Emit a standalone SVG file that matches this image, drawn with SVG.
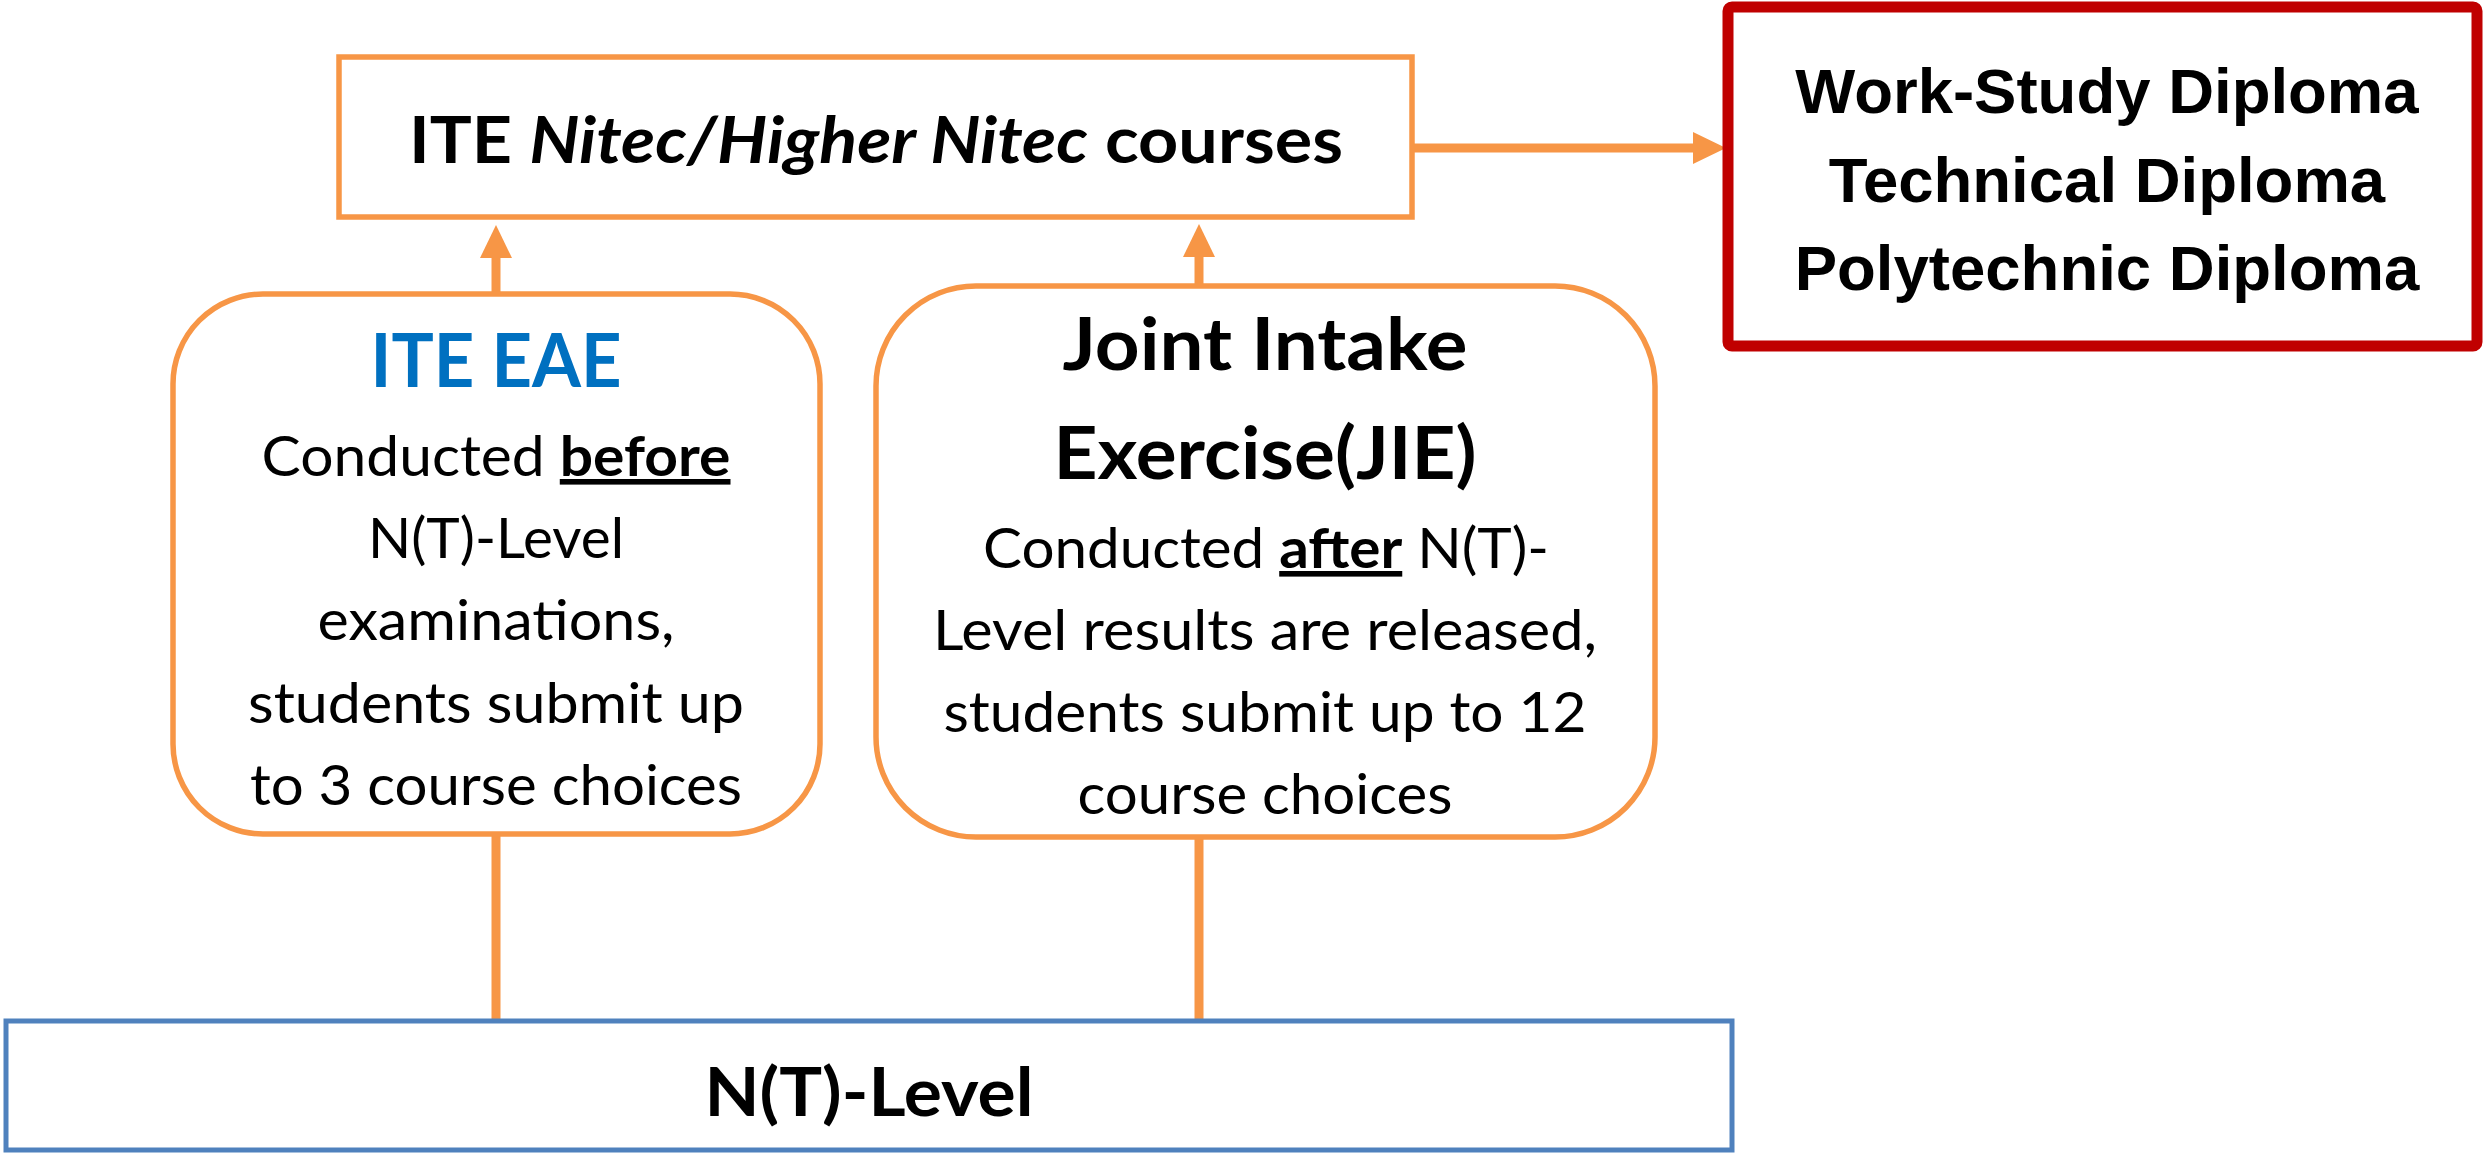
<svg xmlns="http://www.w3.org/2000/svg" width="2484" height="1153" viewBox="0 0 2484 1153">
<defs>
<style>
.ob{fill:#fff;stroke:#F79646;stroke-width:5.5}
.t{font-family:Lato,'Open Sans','DejaVu Sans',sans-serif;text-anchor:middle;fill:#000}
.a{font-family:'Liberation Sans',Arial,sans-serif;font-weight:700;font-size:63.5px;text-anchor:middle;fill:#000}
.b{font-weight:700}
.conn{stroke:#F79646;stroke-width:9;fill:none}
.u{text-decoration:underline}
</style>
<marker id="ah" markerUnits="userSpaceOnUse" markerWidth="34" markerHeight="32" refX="1" refY="16" orient="auto" viewBox="0 0 34 32">
<path d="M0,0 L33,16 L0,32 Z" fill="#F79646"/>
</marker>
</defs>
<rect x="0" y="0" width="2484" height="1153" fill="#fff"/>

<g id="connectors">
<path class="conn" d="M1412,148 H1694" marker-end="url(#ah)"/>
<path class="conn" d="M496,294 V257" marker-end="url(#ah)"/>
<path class="conn" d="M1199,286 V256" marker-end="url(#ah)"/>
<path class="conn" d="M496,834 V1019"/>
<path class="conn" d="M1199,837 V1019"/>
</g>

<g id="ite-courses">
<rect class="ob" x="339" y="57" width="1073" height="160"/>
<text class="t b" x="876" y="163" font-size="65" textLength="934" lengthAdjust="spacingAndGlyphs">ITE <tspan font-style="italic">Nitec/Higher Nitec</tspan> courses</text>
</g>

<g id="diplomas">
<rect x="1728" y="7" width="749" height="339" rx="4" fill="#fff" stroke="#C00000" stroke-width="11"/>
<text class="a" x="2107" y="113">Work-Study Diploma</text>
<text class="a" x="2107" y="202">Technical Diploma</text>
<text class="a" x="2107" y="290">Polytechnic Diploma</text>
</g>

<g id="ite-eae">
<rect class="ob" x="173" y="294" width="647" height="540" rx="90" ry="90"/>
<text class="t b" x="496" y="387" font-size="74" fill="#0070C0" style="fill:#0070C0" textLength="251" lengthAdjust="spacingAndGlyphs">ITE EAE</text>
<text class="t" x="496" y="476" font-size="56" textLength="469" lengthAdjust="spacingAndGlyphs">Conducted <tspan class="b u">before</tspan></text>
<text class="t" x="496" y="558" font-size="56" textLength="256" lengthAdjust="spacingAndGlyphs">N(T)-Level</text>
<text class="t" x="496" y="640" font-size="56" textLength="357" lengthAdjust="spacingAndGlyphs">examinations,</text>
<text class="t" x="496" y="723" font-size="56" textLength="496" lengthAdjust="spacingAndGlyphs">students submit up</text>
<text class="t" x="496" y="805" font-size="56" textLength="492" lengthAdjust="spacingAndGlyphs">to 3 course choices</text>
</g>

<g id="jie">
<rect class="ob" x="876" y="286" width="779" height="551" rx="100" ry="100"/>
<text class="t b" x="1265" y="370" font-size="73" textLength="405" lengthAdjust="spacingAndGlyphs">Joint Intake</text>
<text class="t b" x="1265" y="479" font-size="73" textLength="423" lengthAdjust="spacingAndGlyphs">Exercise(JIE)</text>
<text class="t" x="1266" y="568" font-size="56" textLength="566" lengthAdjust="spacingAndGlyphs">Conducted <tspan class="b u">after</tspan> N(T)-</text>
<text class="t" x="1265" y="650" font-size="56" textLength="664" lengthAdjust="spacingAndGlyphs">Level results are released,</text>
<text class="t" x="1265" y="732" font-size="56" textLength="643" lengthAdjust="spacingAndGlyphs">students submit up to 12</text>
<text class="t" x="1265" y="814" font-size="56" textLength="375" lengthAdjust="spacingAndGlyphs">course choices</text>
</g>

<g id="nt-level">
<rect x="6" y="1021" width="1726" height="129" fill="#fff" stroke="#4F81BD" stroke-width="5"/>
<text class="t b" x="869" y="1116" font-size="67" textLength="329" lengthAdjust="spacingAndGlyphs">N(T)-Level</text>
</g>
</svg>
